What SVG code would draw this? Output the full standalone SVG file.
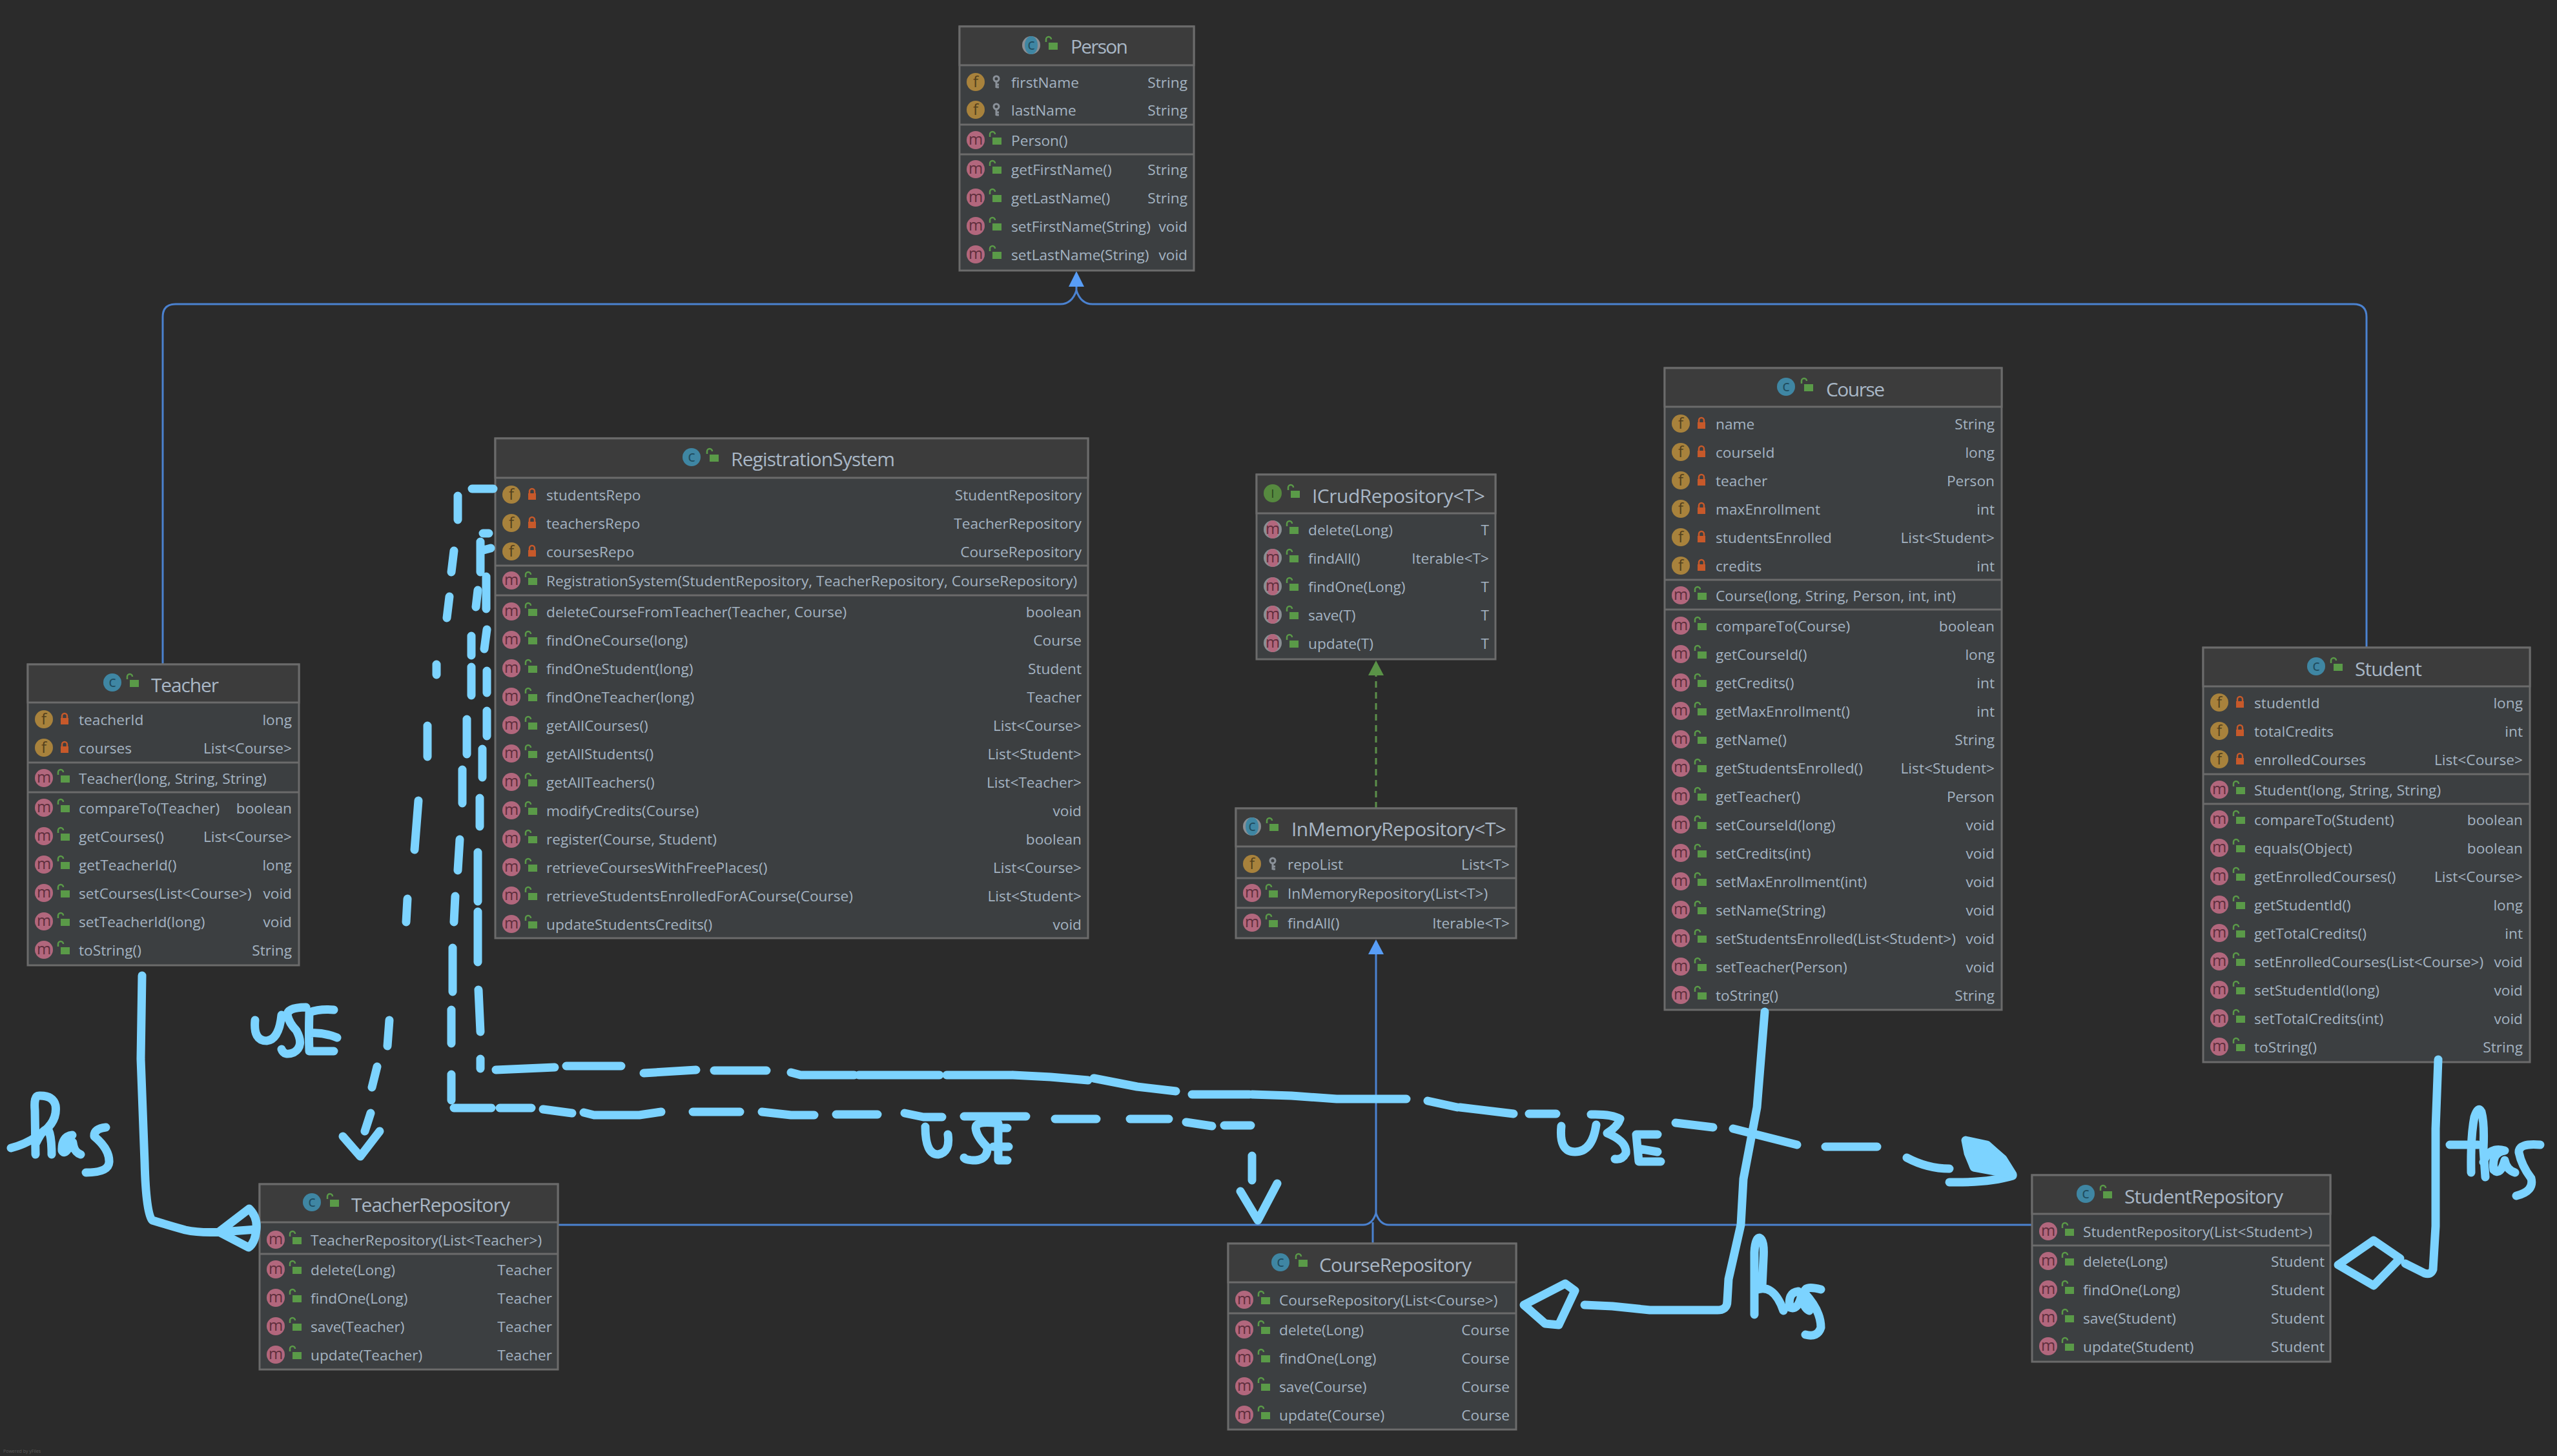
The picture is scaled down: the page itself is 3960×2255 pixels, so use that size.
<svg xmlns="http://www.w3.org/2000/svg" width="3960" height="2255" viewBox="0 0 3960 2255">
<style>
text{font-family:"Open Sans","Noto Sans","DejaVu Sans",sans-serif}
.box{fill:#3C3F41;stroke:#6B6B6B;stroke-width:3}
.hd{fill:#3C3C3C;stroke:#6B6B6B;stroke-width:3}
.dv{stroke:#6B6B6B;stroke-width:3}
.t{font-size:30px;fill:#A9B7C6}
.l{font-size:22.7px;fill:#A4B3C1}
.r{font-size:22.7px;fill:#A4B3C1;text-anchor:end}
.g{text-anchor:middle;font-size:24px}
.h{fill:none;stroke:#7CD3FF;stroke-width:13;stroke-linecap:round;stroke-linejoin:round}
.b{fill:none;stroke:#4B82D0;stroke-width:3}
</style>
<defs>
<g id="lo"><path d="M-5 -4V-8a4 4 0 0 1 8 0" fill="none" stroke="#5A9A48" stroke-width="2.5" transform="translate(-2,-1)"/><rect x="-3" y="-4" width="14" height="11" fill="#5A9A48"/></g>
<g id="lp"><path d="M-4 -2V-5a4 4 0 0 1 8 0V-2" fill="none" stroke="#C7592A" stroke-width="2.5"/><rect x="-6" y="-2" width="12" height="10" fill="#C7592A"/></g>
<g id="k"><circle cx="0" cy="-5" r="4" fill="none" stroke="#8A9199" stroke-width="3"/><path d="M0 -1V9M0 4H4M0 8H4" stroke="#8A9199" stroke-width="3"/></g>
<g id="ci"><circle r="14" fill="#3F86A3"/><text class="g" y="7" fill="#1F4C5E">c</text></g>
<g id="ca"><circle r="14" fill="#8A8F94"/><ellipse rx="10" ry="14" fill="#3F86A3"/><text class="g" y="7" fill="#1F4C5E">c</text></g>
<g id="ii"><circle r="14" fill="#56893F"/><text class="g" y="7" fill="#2A451E" style="font-size:19px">I</text></g>
<g id="fk"><circle cx="25" r="14" fill="#A8823C"/><text class="g" x="25" y="8" fill="#54401C">f</text><use href="#k" x="57"/></g>
<g id="fp"><circle cx="25" r="14" fill="#A8823C"/><text class="g" x="25" y="8" fill="#54401C">f</text><use href="#lp" x="57"/></g>
<g id="mo"><circle cx="25" r="14" fill="#B2677D"/><text class="g" x="25" y="7" fill="#5E2E3C">m</text><use href="#lo" x="54"/></g>
<g id="ma"><circle cx="25" r="14" fill="#8A8F94"/><ellipse cx="25" rx="10" ry="14" fill="#B2677D"/><text class="g" x="25" y="7" fill="#5E2E3C">m</text><use href="#lo" x="54"/></g>
</defs>
<rect width="3960" height="2255" fill="#2B2B2B"/>

<g id="connectors">
<path class="b" d="M252 1029V491Q252 471 272 471H1642Q1660 471 1667 450"/>
<path class="b" d="M3665 1003V491Q3665 471 3645 471H1692Q1674 471 1667 450"/>
<path class="b" d="M1667 450V440"/>
<polygon points="1667,420 1655,444 1679,444" fill="#589DF6"/>
<path class="b" d="M2131 1475V1879"/>
<path class="b" d="M864 1897H2111Q2125 1897 2131 1879Q2137 1897 2151 1897H3147"/>
<path class="b" d="M2126 1926V1893"/>
<polygon points="2131,1455 2119,1478 2143,1478" fill="#589DF6"/>
<path d="M2131 1252V1044" fill="none" stroke="#5C8F4A" stroke-width="3" stroke-dasharray="10 7"/>
<polygon points="2131,1023 2119,1046 2143,1046" fill="#5A9347"/>
</g>

<g id="Person" transform="translate(1486,0)">
<rect class="box" y="41" width="363" height="378"/><rect class="hd" y="41" width="363" height="60"/>
<path class="dv" d="M0 193H363M0 239H363"/>
<use href="#ca" x="111" y="70"/><use href="#lo" x="141" y="70"/><text class="t" x="172" y="83" textLength="89">Person</text>
<use href="#fk" y="127"/><text class="l" x="80" y="136">firstName</text><text class="r" x="353" y="136">String</text>
<use href="#fk" y="170"/><text class="l" x="80" y="179">lastName</text><text class="r" x="353" y="179">String</text>
<use href="#mo" y="217"/><text class="l" x="80" y="226">Person()</text>
<use href="#mo" y="262"/><text class="l" x="80" y="271">getFirstName()</text><text class="r" x="353" y="271">String</text>
<use href="#mo" y="306"/><text class="l" x="80" y="315">getLastName()</text><text class="r" x="353" y="315">String</text>
<use href="#mo" y="350"/><text class="l" x="80" y="359">setFirstName(String)</text><text class="r" x="353" y="359">void</text>
<use href="#mo" y="394"/><text class="l" x="80" y="403">setLastName(String)</text><text class="r" x="353" y="403">void</text>
</g>

<g id="RegistrationSystem" transform="translate(767,0)">
<rect class="box" y="679" width="918" height="774"/><rect class="hd" y="679" width="918" height="61"/>
<path class="dv" d="M0 876H918M0 922H918"/>
<use href="#ci" x="304" y="708"/><use href="#lo" x="335" y="708"/><text class="t" x="365" y="722" textLength="254">RegistrationSystem</text>
<use href="#fp" y="766"/><text class="l" x="79" y="775">studentsRepo</text><text class="r" x="908" y="775">StudentRepository</text>
<use href="#fp" y="810"/><text class="l" x="79" y="819">teachersRepo</text><text class="r" x="908" y="819">TeacherRepository</text>
<use href="#fp" y="854"/><text class="l" x="79" y="863">coursesRepo</text><text class="r" x="908" y="863">CourseRepository</text>
<use href="#mo" y="899"/><text class="l" x="79" y="908">RegistrationSystem(StudentRepository, TeacherRepository, CourseRepository)</text>
<use href="#mo" y="947"/><text class="l" x="79" y="956">deleteCourseFromTeacher(Teacher, Course)</text><text class="r" x="908" y="956">boolean</text>
<use href="#mo" y="991"/><text class="l" x="79" y="1000">findOneCourse(long)</text><text class="r" x="908" y="1000">Course</text>
<use href="#mo" y="1035"/><text class="l" x="79" y="1044">findOneStudent(long)</text><text class="r" x="908" y="1044">Student</text>
<use href="#mo" y="1079"/><text class="l" x="79" y="1088">findOneTeacher(long)</text><text class="r" x="908" y="1088">Teacher</text>
<use href="#mo" y="1123"/><text class="l" x="79" y="1132">getAllCourses()</text><text class="r" x="908" y="1132">List&lt;Course&gt;</text>
<use href="#mo" y="1167"/><text class="l" x="79" y="1176">getAllStudents()</text><text class="r" x="908" y="1176">List&lt;Student&gt;</text>
<use href="#mo" y="1211"/><text class="l" x="79" y="1220">getAllTeachers()</text><text class="r" x="908" y="1220">List&lt;Teacher&gt;</text>
<use href="#mo" y="1255"/><text class="l" x="79" y="1264">modifyCredits(Course)</text><text class="r" x="908" y="1264">void</text>
<use href="#mo" y="1299"/><text class="l" x="79" y="1308">register(Course, Student)</text><text class="r" x="908" y="1308">boolean</text>
<use href="#mo" y="1343"/><text class="l" x="79" y="1352">retrieveCoursesWithFreePlaces()</text><text class="r" x="908" y="1352">List&lt;Course&gt;</text>
<use href="#mo" y="1387"/><text class="l" x="79" y="1396">retrieveStudentsEnrolledForACourse(Course)</text><text class="r" x="908" y="1396">List&lt;Student&gt;</text>
<use href="#mo" y="1431"/><text class="l" x="79" y="1440">updateStudentsCredits()</text><text class="r" x="908" y="1440">void</text>
</g>

<g id="Teacher" transform="translate(43,0)">
<rect class="box" y="1029" width="420" height="466"/><rect class="hd" y="1029" width="420" height="59"/>
<path class="dv" d="M0 1181H420M0 1227H420"/>
<use href="#ci" x="131" y="1057"/><use href="#lo" x="161" y="1057"/><text class="t" x="191" y="1072" textLength="105">Teacher</text>
<use href="#fp" y="1114"/><text class="l" x="79" y="1123">teacherId</text><text class="r" x="409" y="1123">long</text>
<use href="#fp" y="1158"/><text class="l" x="79" y="1167">courses</text><text class="r" x="409" y="1167">List&lt;Course&gt;</text>
<use href="#mo" y="1205"/><text class="l" x="79" y="1214">Teacher(long, String, String)</text>
<use href="#mo" y="1251"/><text class="l" x="79" y="1260">compareTo(Teacher)</text><text class="r" x="409" y="1260">boolean</text>
<use href="#mo" y="1295"/><text class="l" x="79" y="1304">getCourses()</text><text class="r" x="409" y="1304">List&lt;Course&gt;</text>
<use href="#mo" y="1339"/><text class="l" x="79" y="1348">getTeacherId()</text><text class="r" x="409" y="1348">long</text>
<use href="#mo" y="1383"/><text class="l" x="79" y="1392">setCourses(List&lt;Course&gt;)</text><text class="r" x="409" y="1392">void</text>
<use href="#mo" y="1427"/><text class="l" x="79" y="1436">setTeacherId(long)</text><text class="r" x="409" y="1436">void</text>
<use href="#mo" y="1471"/><text class="l" x="79" y="1480">toString()</text><text class="r" x="409" y="1480">String</text>
</g>

<g id="TeacherRepository" transform="translate(402,0)">
<rect class="box" y="1834" width="462" height="287"/><rect class="hd" y="1834" width="462" height="59"/>
<path class="dv" d="M0 1942H462"/>
<use href="#ci" x="81" y="1862"/><use href="#lo" x="112" y="1862"/><text class="t" x="142" y="1877" textLength="246">TeacherRepository</text>
<use href="#mo" y="1920"/><text class="l" x="79" y="1929">TeacherRepository(List&lt;Teacher&gt;)</text>
<use href="#mo" y="1966"/><text class="l" x="79" y="1975">delete(Long)</text><text class="r" x="453" y="1975">Teacher</text>
<use href="#mo" y="2010"/><text class="l" x="79" y="2019">findOne(Long)</text><text class="r" x="453" y="2019">Teacher</text>
<use href="#mo" y="2054"/><text class="l" x="79" y="2063">save(Teacher)</text><text class="r" x="453" y="2063">Teacher</text>
<use href="#mo" y="2098"/><text class="l" x="79" y="2107">update(Teacher)</text><text class="r" x="453" y="2107">Teacher</text>
</g>

<g id="CourseRepository" transform="translate(1902,0)">
<rect class="box" y="1926" width="446" height="288"/><rect class="hd" y="1926" width="446" height="60"/>
<path class="dv" d="M0 2034H446"/>
<use href="#ci" x="81" y="1955"/><use href="#lo" x="112" y="1955"/><text class="t" x="141" y="1970" textLength="236">CourseRepository</text>
<use href="#mo" y="2013"/><text class="l" x="79" y="2022">CourseRepository(List&lt;Course&gt;)</text>
<use href="#mo" y="2059"/><text class="l" x="79" y="2068">delete(Long)</text><text class="r" x="436" y="2068">Course</text>
<use href="#mo" y="2103"/><text class="l" x="79" y="2112">findOne(Long)</text><text class="r" x="436" y="2112">Course</text>
<use href="#mo" y="2147"/><text class="l" x="79" y="2156">save(Course)</text><text class="r" x="436" y="2156">Course</text>
<use href="#mo" y="2191"/><text class="l" x="79" y="2200">update(Course)</text><text class="r" x="436" y="2200">Course</text>
</g>

<g id="StudentRepository" transform="translate(3147,0)">
<rect class="box" y="1820" width="462" height="289"/><rect class="hd" y="1820" width="462" height="60"/>
<path class="dv" d="M0 1929H462"/>
<use href="#ci" x="83" y="1849"/><use href="#lo" x="113" y="1849"/><text class="t" x="143" y="1864" textLength="246">StudentRepository</text>
<use href="#mo" y="1907"/><text class="l" x="79" y="1916">StudentRepository(List&lt;Student&gt;)</text>
<use href="#mo" y="1953"/><text class="l" x="79" y="1962">delete(Long)</text><text class="r" x="453" y="1962">Student</text>
<use href="#mo" y="1997"/><text class="l" x="79" y="2006">findOne(Long)</text><text class="r" x="453" y="2006">Student</text>
<use href="#mo" y="2041"/><text class="l" x="79" y="2050">save(Student)</text><text class="r" x="453" y="2050">Student</text>
<use href="#mo" y="2085"/><text class="l" x="79" y="2094">update(Student)</text><text class="r" x="453" y="2094">Student</text>
</g>

<g id="ICrudRepository" transform="translate(1946,0)">
<rect class="box" y="735" width="370" height="286"/><rect class="hd" y="735" width="370" height="60"/>
<use href="#ii" x="25" y="764"/><use href="#lo" x="56" y="764"/><text class="t" x="86" y="779" textLength="268">ICrudRepository&lt;T&gt;</text>
<use href="#ma" y="820"/><text class="l" x="80" y="829">delete(Long)</text><text class="r" x="360" y="829">T</text>
<use href="#ma" y="864"/><text class="l" x="80" y="873">findAll()</text><text class="r" x="360" y="873">Iterable&lt;T&gt;</text>
<use href="#ma" y="908"/><text class="l" x="80" y="917">findOne(Long)</text><text class="r" x="360" y="917">T</text>
<use href="#ma" y="952"/><text class="l" x="80" y="961">save(T)</text><text class="r" x="360" y="961">T</text>
<use href="#ma" y="996"/><text class="l" x="80" y="1005">update(T)</text><text class="r" x="360" y="1005">T</text>
</g>

<g id="InMemoryRepository" transform="translate(1914,0)">
<rect class="box" y="1252" width="434" height="201"/><rect class="hd" y="1252" width="434" height="59"/>
<path class="dv" d="M0 1360H434M0 1406H434"/>
<use href="#ca" x="25" y="1280"/><use href="#lo" x="55" y="1280"/><text class="t" x="86" y="1295" textLength="333">InMemoryRepository&lt;T&gt;</text>
<use href="#fk" y="1338"/><text class="l" x="80" y="1347">repoList</text><text class="r" x="424" y="1347">List&lt;T&gt;</text>
<use href="#mo" y="1383"/><text class="l" x="80" y="1392">InMemoryRepository(List&lt;T&gt;)</text>
<use href="#mo" y="1429"/><text class="l" x="80" y="1438">findAll()</text><text class="r" x="424" y="1438">Iterable&lt;T&gt;</text>
</g>

<g id="Course" transform="translate(2578,0)">
<rect class="box" y="570" width="522" height="994"/><rect class="hd" y="570" width="522" height="60"/>
<path class="dv" d="M0 898H522M0 944H522"/>
<use href="#ci" x="188" y="599"/><use href="#lo" x="219" y="599"/><text class="t" x="250" y="614" textLength="91">Course</text>
<use href="#fp" y="656"/><text class="l" x="79" y="665">name</text><text class="r" x="511" y="665">String</text>
<use href="#fp" y="700"/><text class="l" x="79" y="709">courseId</text><text class="r" x="511" y="709">long</text>
<use href="#fp" y="744"/><text class="l" x="79" y="753">teacher</text><text class="r" x="511" y="753">Person</text>
<use href="#fp" y="788"/><text class="l" x="79" y="797">maxEnrollment</text><text class="r" x="511" y="797">int</text>
<use href="#fp" y="832"/><text class="l" x="79" y="841">studentsEnrolled</text><text class="r" x="511" y="841">List&lt;Student&gt;</text>
<use href="#fp" y="876"/><text class="l" x="79" y="885">credits</text><text class="r" x="511" y="885">int</text>
<use href="#mo" y="922"/><text class="l" x="79" y="931">Course(long, String, Person, int, int)</text>
<use href="#mo" y="969"/><text class="l" x="79" y="978">compareTo(Course)</text><text class="r" x="511" y="978">boolean</text>
<use href="#mo" y="1013"/><text class="l" x="79" y="1022">getCourseId()</text><text class="r" x="511" y="1022">long</text>
<use href="#mo" y="1057"/><text class="l" x="79" y="1066">getCredits()</text><text class="r" x="511" y="1066">int</text>
<use href="#mo" y="1101"/><text class="l" x="79" y="1110">getMaxEnrollment()</text><text class="r" x="511" y="1110">int</text>
<use href="#mo" y="1145"/><text class="l" x="79" y="1154">getName()</text><text class="r" x="511" y="1154">String</text>
<use href="#mo" y="1189"/><text class="l" x="79" y="1198">getStudentsEnrolled()</text><text class="r" x="511" y="1198">List&lt;Student&gt;</text>
<use href="#mo" y="1233"/><text class="l" x="79" y="1242">getTeacher()</text><text class="r" x="511" y="1242">Person</text>
<use href="#mo" y="1277"/><text class="l" x="79" y="1286">setCourseId(long)</text><text class="r" x="511" y="1286">void</text>
<use href="#mo" y="1321"/><text class="l" x="79" y="1330">setCredits(int)</text><text class="r" x="511" y="1330">void</text>
<use href="#mo" y="1365"/><text class="l" x="79" y="1374">setMaxEnrollment(int)</text><text class="r" x="511" y="1374">void</text>
<use href="#mo" y="1409"/><text class="l" x="79" y="1418">setName(String)</text><text class="r" x="511" y="1418">void</text>
<use href="#mo" y="1453"/><text class="l" x="79" y="1462">setStudentsEnrolled(List&lt;Student&gt;)</text><text class="r" x="511" y="1462">void</text>
<use href="#mo" y="1497"/><text class="l" x="79" y="1506">setTeacher(Person)</text><text class="r" x="511" y="1506">void</text>
<use href="#mo" y="1541"/><text class="l" x="79" y="1550">toString()</text><text class="r" x="511" y="1550">String</text>
</g>

<g id="Student" transform="translate(3412,0)">
<rect class="box" y="1003" width="506" height="642"/><rect class="hd" y="1003" width="506" height="60"/>
<path class="dv" d="M0 1199H506M0 1245H506"/>
<use href="#ci" x="175" y="1032"/><use href="#lo" x="205" y="1032"/><text class="t" x="235" y="1047" textLength="104">Student</text>
<use href="#fp" y="1088"/><text class="l" x="79" y="1097">studentId</text><text class="r" x="495" y="1097">long</text>
<use href="#fp" y="1132"/><text class="l" x="79" y="1141">totalCredits</text><text class="r" x="495" y="1141">int</text>
<use href="#fp" y="1176"/><text class="l" x="79" y="1185">enrolledCourses</text><text class="r" x="495" y="1185">List&lt;Course&gt;</text>
<use href="#mo" y="1223"/><text class="l" x="79" y="1232">Student(long, String, String)</text>
<use href="#mo" y="1269"/><text class="l" x="79" y="1278">compareTo(Student)</text><text class="r" x="495" y="1278">boolean</text>
<use href="#mo" y="1313"/><text class="l" x="79" y="1322">equals(Object)</text><text class="r" x="495" y="1322">boolean</text>
<use href="#mo" y="1357"/><text class="l" x="79" y="1366">getEnrolledCourses()</text><text class="r" x="495" y="1366">List&lt;Course&gt;</text>
<use href="#mo" y="1401"/><text class="l" x="79" y="1410">getStudentId()</text><text class="r" x="495" y="1410">long</text>
<use href="#mo" y="1445"/><text class="l" x="79" y="1454">getTotalCredits()</text><text class="r" x="495" y="1454">int</text>
<use href="#mo" y="1489"/><text class="l" x="79" y="1498">setEnrolledCourses(List&lt;Course&gt;)</text><text class="r" x="495" y="1498">void</text>
<use href="#mo" y="1533"/><text class="l" x="79" y="1542">setStudentId(long)</text><text class="r" x="495" y="1542">void</text>
<use href="#mo" y="1577"/><text class="l" x="79" y="1586">setTotalCredits(int)</text><text class="r" x="495" y="1586">void</text>
<use href="#mo" y="1621"/><text class="l" x="79" y="1630">toString()</text><text class="r" x="495" y="1630">String</text>
</g>

<g id="annotations" class="h">
<!-- has: Teacher to TeacherRepository -->
<path d="M220 1511L218 1640L224 1800Q226 1880 236 1890Q262 1898 287 1905Q310 1910 344 1908M339 1908L386 1872Q399 1885 397 1904Q395 1925 385 1932L339 1908M344 1908L397 1904"/>
<path d="M17 1778Q40 1772 57 1760Q90 1740 86 1712Q82 1696 60 1697Q52 1697 54 1720L55 1788M56 1770Q68 1745 75 1750Q80 1760 80 1788M112 1758Q95 1760 96 1782Q100 1790 108 1775Q112 1765 113 1770Q115 1785 125 1788M164 1746Q145 1748 146 1760Q170 1780 169 1800Q168 1816 133 1816"/>
<!-- USE teacher -->
<path d="M395 1580Q392 1612 413 1612Q432 1610 436 1572M474 1560Q445 1560 445 1572Q448 1585 459 1596Q472 1620 455 1630Q440 1636 436 1625M517 1564Q495 1562 479 1568Q478 1600 479 1628H517M479 1600Q500 1598 522 1607"/>
<path d="M676 1029V1045M662 1124V1172M648 1240L642 1316M631 1392L629 1428M603 1580L600 1620M584 1652L576 1684M574 1724L565 1752M531 1760L558 1791L588 1752"/>
<path d="M731 757H764M709 768V805M703 853L699 886M696 924L692 957"/>
<!-- dashed column 2 -->
<path d="M748 826H757M744 839V886M745 853L760 849M740 914L737 940M730 985V1015M730 1033V1077M723 1114V1168M716 1192V1244M712 1300L709 1348M705 1388L703 1428M701 1468V1536M699 1564V1616M699 1664V1704"/>
<!-- dashed column 3 -->
<path d="M753 893V943M754 975L750 1005M754 1039V1073M754 1101V1140M747 1160V1204M743 1236V1280M740 1320V1396M740 1412V1490M741 1533L744 1598M744 1640V1655"/>
<!-- upper horizontal -->
<path d="M768 1657L859 1653M877 1651H962M997 1662L1078 1657M1106 1658H1187M1225 1661L1240 1665L1323 1665M1330 1665H1455M1466 1665H1567M1569 1665L1627 1668L1685 1673M1694 1670L1761 1683L1821 1690M1846 1695H1935M1939 1695L2000 1697L2070 1702M2070 1702H2178M2211 1705L2257 1715M2261 1715L2344 1725M2368 1725H2410M2595 1739L2653 1746M2684 1748L2783 1773M2827 1776H2907M2953 1793Q2985 1810 3019 1810"/>
<path d="M3019 1831Q3080 1832 3117 1821"/>
<path d="M3044 1766L3077 1773L3102 1795L3117 1819L3057 1808L3048 1786Z" style="fill:#7CD3FF"/>
<path d="M2418 1744Q2414 1784 2439 1784Q2466 1784 2472 1742M2464 1726Q2495 1725 2509 1733Q2505 1745 2489 1755Q2520 1768 2518 1786Q2512 1797 2501 1795M2567 1757H2534L2538 1799H2572M2538 1779L2567 1784"/>
<!-- lower horizontal -->
<path d="M703 1716H761M774 1716H823M841 1718L886 1724M904 1723L920 1727H990L1024 1722M1073 1722H1146M1180 1722L1225 1727H1261M1295 1726H1359M1401 1724L1430 1730H1459M1493 1729H1589M1634 1733H1698M1750 1733H1810M1837 1738L1877 1744M1896 1743H1937M1939 1790V1828M1921 1845L1948 1890L1978 1833"/>
<path d="M1433 1745Q1433 1788 1453 1788Q1472 1785 1468 1757M1546 1740Q1511 1735 1511 1747Q1512 1760 1529 1777Q1530 1795 1511 1797Q1495 1797 1493 1793M1560 1747H1546V1797H1560M1538 1776H1562"/>
<!-- has: Course to CourseRepository -->
<path d="M2733 1567L2721 1715L2700 1826L2696 1897L2677 1981L2675 2015Q2675 2029 2660 2029H2555L2497 2023L2454 2021"/>
<path d="M2360 2021L2424 1988L2439 1999L2414 2052L2393 2050Z"/>
<path d="M2717 2036V1940Q2718 1917 2725 1917Q2733 1920 2731 1950L2729 1993M2717 1999Q2746 1985 2762 2030M2785 2000Q2768 2002 2772 2025Q2785 2030 2790 2005Q2792 2025 2802 2030M2820 1997Q2792 1990 2795 2003Q2820 2030 2820 2056Q2815 2072 2796 2067"/>
<!-- has: Student to StudentRepository -->
<path d="M3776 1641L3772 1748V1899L3768 1966Q3765 1975 3755 1972L3725 1957"/>
<path d="M3621 1959L3676 1921L3717 1949L3676 1991Z"/>
<path d="M3827 1816Q3826 1760 3832 1730Q3838 1712 3843 1722Q3848 1740 3846 1780L3849 1823M3794 1773H3838M3846 1800Q3855 1775 3879 1782Q3858 1785 3862 1812Q3872 1822 3879 1797Q3882 1812 3895 1816M3934 1773Q3900 1770 3901 1785Q3905 1805 3920 1825Q3925 1845 3897 1852"/>
</g>
<text x="5" y="2250" style="font-size:7px;fill:#5A5A5A">Powered by yFiles</text>
</svg>
